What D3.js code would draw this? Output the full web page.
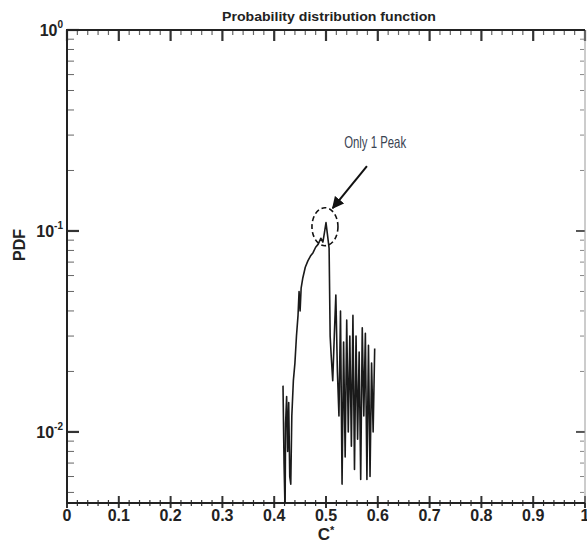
<!DOCTYPE html>
<html>
<head>
<meta charset="utf-8">
<script src="https://cdn.jsdelivr.net/npm/d3@7"></script>
<style>
  body { margin: 0; background: #fff; }
  svg { display: block; font-family: "Liberation Sans", Arial, sans-serif; }
</style>
</head>
<body>
<div id="chart"></div>
<script>
// values
const cValues = [0.417, 0.419, 0.421, 0.422, 0.424, 0.426, 0.428, 0.430, 0.432, 0.434,
  0.437, 0.440, 0.443, 0.446, 0.448, 0.450, 0.452, 0.455, 0.460, 0.465,
  0.470, 0.475, 0.480, 0.485, 0.490, 0.494, 0.497, 0.500, 0.503, 0.506,
  0.508, 0.510, 0.513, 0.516, 0.519, 0.522, 0.525, 0.528, 0.531, 0.534,
  0.537, 0.540, 0.543, 0.546, 0.549, 0.552, 0.555, 0.558, 0.561, 0.564,
  0.567, 0.570, 0.573, 0.576, 0.579, 0.582, 0.585, 0.588, 0.591, 0.594];
const pdfValues = [0.017, 0.007, 0.0040, 0.011, 0.015, 0.008, 0.014, 0.006, 0.0055, 0.012,
  0.018, 0.022, 0.030, 0.038, 0.050, 0.040, 0.052, 0.058, 0.066, 0.071,
  0.075, 0.078, 0.083, 0.086, 0.092, 0.088, 0.098, 0.110, 0.095, 0.082,
  0.030, 0.024, 0.018, 0.030, 0.048, 0.020, 0.012, 0.040, 0.0055, 0.028,
  0.0075, 0.036, 0.010, 0.030, 0.0085, 0.038, 0.0065, 0.030, 0.0092, 0.025,
  0.0058, 0.033, 0.012, 0.031, 0.0058, 0.027, 0.006, 0.022, 0.010, 0.026];

const xTicks = [0, 0.1, 0.2, 0.3, 0.4, 0.5, 0.6, 0.7, 0.8, 0.9, 1];
const xTickLabels = ["0", "0.1", "0.2", "0.3", "0.4", "0.5", "0.6", "0.7", "0.8", "0.9", "1"];
const yTicks = [1, 0.1, 0.01];
const yExponents = ["0", "-1", "-2"];

const width = 587, height = 544;
const plotLeft = 67, plotRight = 585, plotTop = 30, plotBottom = 503;

const x = d3.scaleLinear().domain([0, 1]).range([plotLeft, plotRight]);
const y = d3.scaleLog().domain([0.00443, 1]).range([plotBottom, plotTop]);

const svg = d3.select("#chart").append("svg")
  .attr("width", width).attr("height", height);

const defs = svg.append("defs");
defs.append("clipPath").attr("id", "plot-clip")
  .append("rect").attr("x", plotLeft).attr("y", plotTop)
  .attr("width", plotRight - plotLeft).attr("height", plotBottom - plotTop);

// minor ticks
const xMinor = d3.range(0, 1.0001, 0.02).filter(v => Math.abs(v * 10 - Math.round(v * 10)) > 1e-6);
const yMinor = [];
[0.001, 0.01, 0.1].forEach(d => {
  for (let k = 2; k <= 9; k++) {
    const v = d * k;
    if (v >= y.domain()[0] && v <= 1) yMinor.push(v);
  }
});

const ticks = svg.append("g").attr("stroke", "#333");

// bottom axis ticks (cross the line)
ticks.selectAll(".bmaj").data(xTicks).enter().append("line")
  .attr("x1", d => x(d)).attr("x2", d => x(d))
  .attr("y1", plotBottom - 7).attr("y2", plotBottom + 5).attr("stroke-width", 2);
ticks.selectAll(".bmin").data(xMinor).enter().append("line")
  .attr("x1", d => x(d)).attr("x2", d => x(d))
  .attr("y1", plotBottom - 3).attr("y2", plotBottom + 3).attr("stroke-width", 1.2);

// top axis ticks (inward)
ticks.selectAll(".tmaj").data(xTicks).enter().append("line")
  .attr("x1", d => x(d)).attr("x2", d => x(d))
  .attr("y1", plotTop).attr("y2", plotTop + 11).attr("stroke-width", 2.2);
ticks.selectAll(".tmin").data(xMinor).enter().append("line")
  .attr("x1", d => x(d)).attr("x2", d => x(d))
  .attr("y1", plotTop).attr("y2", plotTop + 5).attr("stroke-width", 1.2).attr("stroke", "#666");

// left axis ticks
ticks.selectAll(".lmaj").data(yTicks).enter().append("line")
  .attr("x1", plotLeft).attr("x2", plotLeft + 12)
  .attr("y1", d => y(d)).attr("y2", d => y(d)).attr("stroke-width", 2.2);
ticks.selectAll(".lmin").data(yMinor).enter().append("line")
  .attr("x1", plotLeft + 1).attr("x2", plotLeft + 7)
  .attr("y1", d => y(d)).attr("y2", d => y(d)).attr("stroke-width", 1).attr("stroke", "#666");

// right axis ticks
ticks.selectAll(".rmaj").data(yTicks).enter().append("line")
  .attr("x1", plotRight - 9).attr("x2", plotRight)
  .attr("y1", d => y(d)).attr("y2", d => y(d)).attr("stroke-width", 2).attr("stroke", "#555");
ticks.selectAll(".rmin").data(yMinor).enter().append("line")
  .attr("x1", plotRight - 5).attr("x2", plotRight - 1)
  .attr("y1", d => y(d)).attr("y2", d => y(d)).attr("stroke-width", 1).attr("stroke", "#888");

// frame
svg.append("line").attr("x1", plotRight).attr("x2", plotRight).attr("y1", plotTop).attr("y2", plotBottom)
  .attr("stroke", "#999").attr("stroke-width", 1);
svg.append("path")
  .attr("d", `M${plotRight},${plotTop}H${plotLeft}V${plotBottom}H${plotRight}`)
  .attr("fill", "none").attr("stroke", "#222").attr("stroke-width", 2);

// tick labels
svg.append("g").selectAll("text").data(xTicks).enter().append("text")
  .attr("x", d => x(d)).attr("y", plotBottom + 18)
  .attr("text-anchor", "middle")
  .style("font-size", "16px").style("font-weight", "bold").attr("fill", "#222")
  .text((d, i) => xTickLabels[i]);

const yl = svg.append("g").selectAll("text").data(yTicks).enter().append("text")
  .attr("x", plotLeft - 4).attr("y", d => y(d) + 6)
  .attr("text-anchor", "end")
  .style("font-size", "16px").style("font-weight", "bold").attr("fill", "#222");
yl.append("tspan").text("10");
yl.append("tspan").attr("dy", -8).style("font-size", "10px")
  .text((d, i) => yExponents[i]);

// axis titles
svg.append("text").attr("x", 329).attr("y", 21)
  .attr("text-anchor", "middle")
  .style("font-size", "13.5px").style("font-weight", "bold").attr("fill", "#222")
  .attr("textLength", 214).attr("lengthAdjust", "spacingAndGlyphs")
  .text("Probability distribution function");
const xTitle = svg.append("text").attr("x", (plotLeft + plotRight) / 2).attr("y", 540)
  .attr("text-anchor", "middle")
  .style("font-size", "17px").style("font-weight", "bold").attr("fill", "#222");
xTitle.append("tspan").text("C");
xTitle.append("tspan").attr("dy", -6).style("font-size", "11px").text("*");
svg.append("text").attr("transform", "translate(25,245) rotate(-90)")
  .attr("text-anchor", "middle")
  .style("font-size", "16px").style("font-weight", "bold").attr("fill", "#222")
  .text("PDF");

// the PDF curve
const line = d3.line().x(d => x(d[0])).y(d => y(d[1]));
svg.append("path")
  .datum(cValues.map((c, i) => [c, pdfValues[i]]))
  .attr("clip-path", "url(#plot-clip)")
  .attr("d", line)
  .attr("fill", "none").attr("stroke", "#1a1a1a").attr("stroke-width", 1.6)
  .attr("stroke-linejoin", "round");

// annotation
const peakX = 0.498, peakY = 0.105;
svg.append("ellipse")
  .attr("cx", x(peakX)).attr("cy", y(peakY)).attr("rx", 13).attr("ry", 19)
  .attr("fill", "none").attr("stroke", "#111").attr("stroke-width", 1.6)
  .attr("stroke-dasharray", "5,3");

defs.append("marker").attr("id", "arrow")
  .attr("viewBox", "0 0 10 10").attr("refX", 9).attr("refY", 5)
  .attr("markerWidth", 6).attr("markerHeight", 6).attr("orient", "auto")
  .append("path").attr("d", "M0,0L10,5L0,10z").attr("fill", "#111");
svg.append("line")
  .attr("x1", x(0.579)).attr("y1", y(0.21))
  .attr("x2", x(0.513)).attr("y2", y(0.13))
  .attr("stroke", "#111").attr("stroke-width", 2)
  .attr("marker-end", "url(#arrow)");

svg.append("text").attr("x", x(0.535)).attr("y", y(0.26))
  .style("font-size", "16.5px").attr("fill", "#3a4352")
  .attr("textLength", 62).attr("lengthAdjust", "spacingAndGlyphs")
  .text("Only 1 Peak");
</script>
</body>
</html>
